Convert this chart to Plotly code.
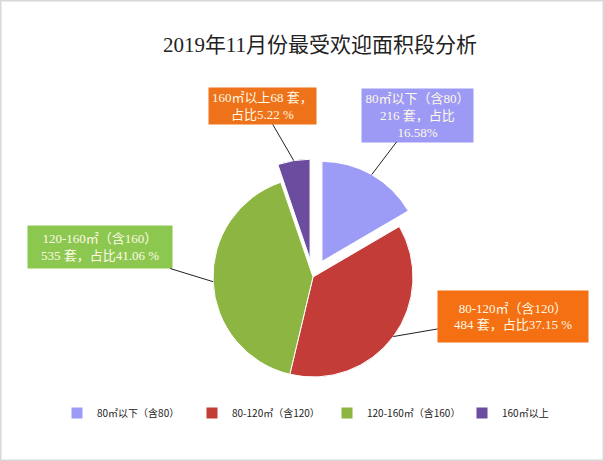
import numpy as np
import plotly.graph_objects as go

# ---- data ----
categories = ["80㎡以下（含80）", "80-120㎡（含120）", "120-160㎡（含160）", "160㎡以上"]
counts = [216, 484, 535, 68]
shares = [16.58, 37.15, 41.06, 5.22]
slice_colors = ["#9C9CF7", "#C43C38", "#8DB542", "#6B4C9E"]
pulls = [0.18, 0, 0, 0.18]
label_texts = [
    "80㎡以下（含80）<br>216 套，占比<br>16.58%",
    "80-120㎡（含120）<br>484 套，占比37.15 %",
    "120-160㎡（含160）<br>535 套，占比41.06 %",
    "160㎡以上68 套，<br>占比5.22 %",
]
title_text = "2019年11月份最受欢迎面积段分析"

# ---- layout geometry ----
W, H = 604, 461
cx, cy = 313, 277          # pie centre (px)
max_pull = max(pulls)
r = 100                    # pie radius (px)
half = r * (1 + max_pull)
dom_x = [(cx - half) / W, (cx + half) / W]
dom_y = [1 - (cy + half) / H, 1 - (cy - half) / H]

fig = go.Figure()
fig.add_trace(go.Pie(
    labels=categories,
    values=counts,
    sort=False,
    direction="clockwise",
    rotation=0,
    pull=pulls,
    marker=dict(colors=slice_colors, line=dict(color="#FFFFFF", width=1)),
    textinfo="none",
    domain=dict(x=dom_x, y=dom_y),
    showlegend=True,
))

# leader-line tips computed from the slice geometry
vals = np.array(counts, dtype=float)
frac = vals / vals.sum()
starts = np.concatenate([[0], np.cumsum(frac)[:-1]])
mids = (starts + frac / 2) * 2 * np.pi
box_centres = [(417, 115), (513, 316), (100, 247), (262, 106)]
box_sizes = [(111, 53), (150, 51), (144, 42), (107, 36)]
box_colors = ["#9C9AF5", "#F47012", "#8CC850", "#EE7219"]

for i in range(len(categories)):
    dx, dy = np.sin(mids[i]), -np.cos(mids[i])
    pcx = cx + pulls[i] * r * dx
    pcy = cy + pulls[i] * r * dy
    tx, ty = pcx + r * dx, pcy + r * dy
    bx, by = box_centres[i]
    bw, bh = box_sizes[i]
    fig.add_annotation(
        x=tx / W, y=1 - ty / H, xref="paper", yref="paper",
        ax=bx - tx, ay=by - ty,
        showarrow=True, arrowhead=0, arrowwidth=1, arrowcolor="#222222",
        text=label_texts[i],
        font=dict(family="Liberation Serif, Noto Sans CJK SC", size=13, color="#FFF9E6"),
        bgcolor=box_colors[i],
        width=bw - 4, height=bh - 4, borderpad=2,
        align="center", valign="middle",
    )

fig.update_layout(
    width=W, height=H,
    margin=dict(l=0, r=0, t=0, b=0),
    paper_bgcolor="#FFFFFF",
    plot_bgcolor="#FFFFFF",
    title=dict(
        text=title_text, x=320 / W, xanchor="center", y=1 - 45 / H, yanchor="middle",
        font=dict(family="Liberation Serif, Noto Sans CJK SC", size=21, color="#222222"),
    ),
    legend=dict(
        orientation="h", x=57 / W, xanchor="left", y=1 - 413 / H, yanchor="middle",
        entrywidth=90, entrywidthmode="pixels",
        font=dict(family="Noto Sans CJK SC", size=10, color="#222222"),
        itemclick=False,
    ),
    shapes=[dict(type="rect", xref="paper", yref="paper", x0=0, y0=0, x1=1, y1=1,
                 line=dict(color="#D8D8D8", width=3))],
)

fig.write_html("out.html")
